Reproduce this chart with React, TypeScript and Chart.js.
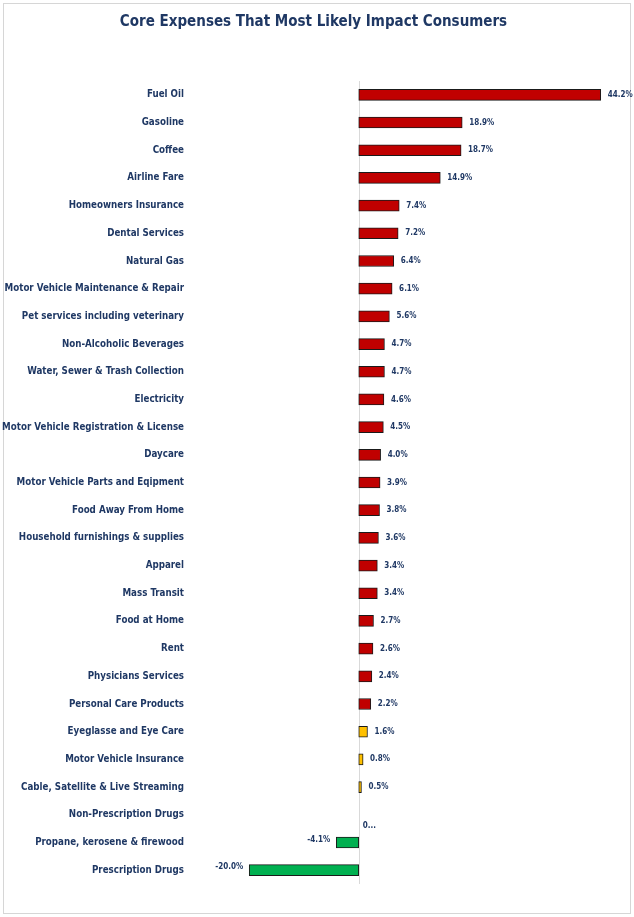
import React, { useEffect, useRef } from "react";
import { Chart, registerables } from "chart.js";

Chart.register(...registerables);

const titleText = "Core Expenses That Most Likely Impact Consumers";

const categories = [
  "Fuel Oil",
  "Gasoline",
  "Coffee",
  "Airline Fare",
  "Homeowners Insurance",
  "Dental Services",
  "Natural Gas",
  "Motor Vehicle Maintenance & Repair",
  "Pet services including veterinary",
  "Non-Alcoholic Beverages",
  "Water, Sewer & Trash Collection",
  "Electricity",
  "Motor Vehicle Registration & License",
  "Daycare",
  "Motor Vehicle Parts and Eqipment",
  "Food Away From Home",
  "Household furnishings & supplies",
  "Apparel",
  "Mass Transit",
  "Food at Home",
  "Rent",
  "Physicians Services",
  "Personal Care Products",
  "Eyeglasse and Eye Care",
  "Motor Vehicle Insurance",
  "Cable, Satellite & Live Streaming",
  "Non-Prescription Drugs",
  "Propane, kerosene & firewood",
  "Prescription Drugs",
];

const changes = [
  44.2, 18.9, 18.7, 14.9, 7.4, 7.2, 6.4, 6.1, 5.6, 4.7, 4.7, 4.6, 4.5, 4.0,
  3.9, 3.8, 3.6, 3.4, 3.4, 2.7, 2.6, 2.4, 2.2, 1.6, 0.8, 0.5, 0, -4.1, -20.0,
];

const NAVY = "#1F3864";
const FONT = "'DejaVu Sans Condensed', 'Roboto', sans-serif";

function barColor(v: number) {
  if (v < 0) return "#00B050";
  if (v < 2) return "#FFC000";
  return "#C00000";
}

const zeroLinePlugin = {
  id: "zeroLine",
  beforeDatasetsDraw(chart: any) {
    const { ctx, chartArea, scales } = chart;
    const x = scales.x.getPixelForValue(0);
    ctx.save();
    ctx.strokeStyle = "#D9D9D9";
    ctx.lineWidth = 1;
    ctx.beginPath();
    ctx.moveTo(Math.round(x) + 0.5, chartArea.top);
    ctx.lineTo(Math.round(x) + 0.5, chartArea.bottom);
    ctx.stroke();
    ctx.restore();
  },
};

const valueLabelPlugin = {
  id: "valueLabels",
  afterDatasetsDraw(chart: any) {
    const { ctx } = chart;
    const meta = chart.getDatasetMeta(0);
    const data = chart.data.datasets[0].data as number[];
    ctx.save();
    ctx.fillStyle = NAVY;
    ctx.font = `bold 8px ${FONT}`;
    ctx.textBaseline = "middle";
    meta.data.forEach((el: any, i: number) => {
      const v = data[i];
      if (v === 0) {
        ctx.textAlign = "left";
        ctx.fillText("0...", el.x + 4, el.y + 11);
        return;
      }
      const txt = v.toFixed(1) + "%";
      if (v < 0) {
        ctx.textAlign = "right";
        ctx.fillText(txt, el.x - 6, el.y - 3);
      } else {
        ctx.textAlign = "left";
        ctx.fillText(txt, el.x + 7, el.y);
      }
    });
    ctx.restore();
  },
};

export default function App() {
  const canvasRef = useRef<HTMLCanvasElement | null>(null);

  useEffect(() => {
    if (!canvasRef.current) return;
    const chart = new Chart(canvasRef.current, {
      type: "bar",
      data: {
        labels: categories,
        datasets: [
          {
            data: changes,
            backgroundColor: changes.map(barColor),
            borderColor: "#1A1A1A",
            borderWidth: 1,
            borderSkipped: false,
            barThickness: 11,
          },
        ],
      },
      options: {
        indexAxis: "y",
        animation: false,
        responsive: false,
        maintainAspectRatio: false,
        layout: { padding: { top: 0, right: 7, bottom: 33, left: 0 } },
        plugins: {
          legend: { display: false },
          tooltip: { enabled: false },
          title: {
            display: true,
            text: titleText,
            color: NAVY,
            font: { family: FONT, size: 15, weight: "bold" },
            padding: { top: 13, bottom: 50 },
          },
        },
        scales: {
          x: {
            type: "linear",
            min: -31,
            max: 49,
            display: false,
          },
          y: {
            grid: { display: false, drawTicks: false },
            border: { display: false },
            ticks: {
              color: NAVY,
              padding: 5,
              autoSkip: false,
              font: { family: FONT, size: 9.7, weight: "bold" },
            },
            afterFit(scale: any) {
              scale.width = 189;
            },
          },
        },
      },
      plugins: [zeroLinePlugin, valueLabelPlugin],
    });
    return () => chart.destroy();
  }, []);

  return (
    <div
      style={{
        position: "absolute",
        left: 0,
        top: 0,
        width: 634,
        height: 917,
        background: "#fff",
      }}
    >
      <div
        style={{
          position: "absolute",
          left: 3,
          top: 3,
          width: 626,
          height: 909,
          border: "1px solid #D6D6D6",
        }}
      />
      <canvas
        ref={canvasRef}
        width={634}
        height={917}
        style={{ position: "absolute", left: 0, top: 0, width: 634, height: 917 }}
      />
    </div>
  );
}
